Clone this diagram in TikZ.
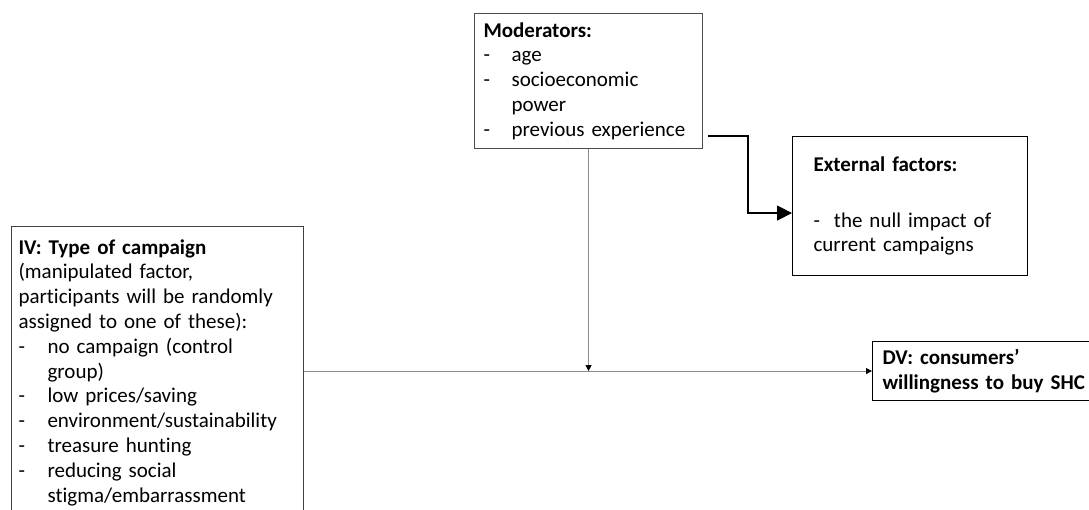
\documentclass[tikz,border=0pt]{standalone}
\usepackage{fontspec}
\setmainfont{Carlito}[Ligatures=NoCommon]
\usetikzlibrary{arrows.meta}
\tikzset{box/.style={draw, line width=1.1pt, align=left, inner ysep=0pt,
    font=\fontsize{21}{24.8}\selectfont}}
\tikzset{thin link/.style={draw=black!45, line width=0.9pt,
    -{Triangle[length=6pt, width=6pt, color=black]}}}
\tikzset{bold link/.style={draw=black, line width=1.2pt,
    -{Triangle[length=15pt, width=15pt]}}}
\newcommand{\li}{\makebox[29pt][l]{-}}
\newcommand{\lc}{\hspace*{29pt}}

\begin{document}
\begin{tikzpicture}[x=1pt, y=-1pt]
    \useasboundingbox (0,0) rectangle (1089,509);
    \clip (0,0) rectangle (1089,509);

    \node[box, draw=black!70, anchor=north west, inner xsep=9pt, text width=210pt,
        minimum height=135pt] (mod) at (474,13)
        {\textbf{Moderators:}\\
         \makebox[28pt][l]{-}age\\
         \makebox[28pt][l]{-}socioeconomic\\
         \hspace*{28pt}power\\
         \makebox[28pt][l]{-}previous experience};

    \node[box, anchor=north west, inner xsep=8pt, text width=219pt,
        minimum height=139pt] (ext) at (792,136)
        {\hspace*{13pt}\textbf{External factors:}\\[31pt]
         \hspace*{13pt}-\ \ the null impact of\\
         \hspace*{13pt}current campaigns};

    \node[box, draw=black!75, anchor=north west, inner xsep=7pt, text width=278pt,
        minimum height=292pt] (iv) at (11,226)
        {\textbf{IV: Type of campaign}\\
         (manipulated factor,\\
         participants will be randomly\\
         assigned to one of these):\\
         \li no campaign (control\\
         \lc group)\\
         \li low prices/saving\\
         \li environment/sustainability\\
         \li treasure hunting\\
         \li reducing social\\
         \lc stigma/embarrassment};

    \node[box, anchor=north west, inner xsep=10pt, text width=205pt,
        minimum height=59pt] (dv) at (872,341)
        {\textbf{DV: consumers’}\\
         \textbf{willingness to buy SHC}};

    \coordinate (join) at (mod.south |- dv.west);
    \coordinate (modout) at (708,136);

    \draw[thin link] (iv.east |- dv.west) -- (dv.west);
    \draw[thin link] (mod.south) -- (join);
    \draw[bold link] (modout) -- ++(40,0) |- ([yshift=-7pt]ext.west);

    % \draw[help lines, step=50] (0,0) grid (1089,509);
\end{tikzpicture}
\end{document}
